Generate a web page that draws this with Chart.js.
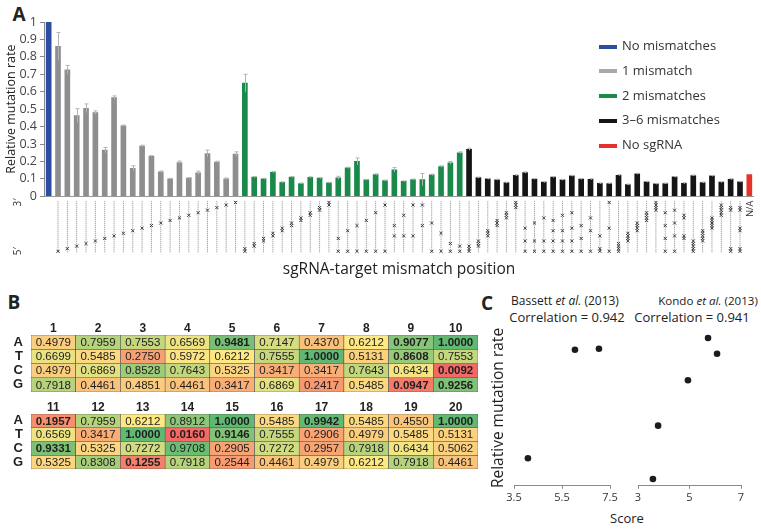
<!DOCTYPE html>
<html>
<head>
<meta charset="utf-8">
<script src="https://cdn.jsdelivr.net/npm/chart.js@4.4.1/dist/chart.umd.min.js"></script>
<style>
  html, body { margin: 0; padding: 0; background: #fff; }
  body { width: 761px; height: 529px; position: relative; overflow: hidden; font-family: "Open Sans", sans-serif; color: #222; }
  .box { position: absolute; line-height: 0; }
  .box canvas { display: block; }
  .tag { position: absolute; font-weight: bold; font-size: 19px; transform: translate(-50%, -50%); }
  .txt { position: absolute; white-space: nowrap; transform: translate(-50%, -50%); font-size: 12px; color: #222; }
  .legend { position: absolute; left: 599px; top: 36px; font-size: 13px; color: #333; }
  .legend div { height: 24.8px; line-height: 18px; white-space: nowrap; }
  .legend span { display: inline-block; width: 18px; height: 4px; margin-right: 5px; vertical-align: middle; }
</style>
</head>
<body>

<div class="tag" style="left:19px; top:14px">A</div>
<div class="tag" style="left:14px; top:302px">B</div>
<div class="tag" style="left:487px; top:303px">C</div>

<div class="box" style="left:0; top:0"><canvas id="barChart" width="761" height="285"></canvas></div>
<div class="legend" id="legend"></div>

<div class="box" style="left:0; top:313px"><canvas id="heat1" width="490" height="95"></canvas></div>
<div class="box" style="left:0; top:392px"><canvas id="heat2" width="490" height="93"></canvas></div>

<div class="txt" style="left:565px; top:300px">Bassett <i>et al.</i> (2013)</div>
<div class="txt" style="left:567px; top:317px; font-size:13px">Correlation = 0.942</div>
<div class="txt" style="left:708px; top:300px; font-size:11.6px">Kondo <i>et al.</i> (2013)</div>
<div class="txt" style="left:692px; top:317px; font-size:13px">Correlation = 0.941</div>
<div class="txt" style="left:497px; top:408px; transform:translate(-50%,-50%) rotate(-90deg); font-size:15.5px">Relative mutation rate</div>
<div class="txt" style="left:627px; top:518px; font-size:13px">Score</div>

<div class="box" style="left:500px; top:322px"><canvas id="scatter1" width="120" height="207"></canvas></div>
<div class="box" style="left:624px; top:322px"><canvas id="scatter2" width="137" height="207"></canvas></div>

<script>
// ---- Panel A data ----
// mismatch positions (1 = 5' end, 20 = 3' end) for each sgRNA, null = no sgRNA
const mismatchPositions = [
  [],
  [1], [2], [3], [4], [5], [6], [7], [8], [9], [10],
  [11], [12], [13], [14], [15], [16], [17], [18], [19], [20],
  [1, 2], [3, 4], [5, 6], [7, 8], [9, 10], [11, 12], [13, 14], [15, 16], [17, 18], [19, 20],
  [1, 6], [1, 9], [1, 11], [1, 13], [1, 16], [1, 19], [7, 11], [7, 15], [7, 19], [11, 19],
  [1, 12], [1, 8], [1, 4], [1, 3],
  [1, 2, 3], [3, 4, 5], [7, 8, 9], [11, 12, 13], [14, 15, 16], [18, 19, 20],
  [1, 5, 10], [1, 5, 12], [1, 5, 14], [1, 5, 9, 13], [1, 5, 9, 15], [1, 5, 10, 16],
  [1, 6, 11], [1, 9, 14], [1, 2, 7], [1, 10, 20],
  [1, 2, 3, 4], [5, 6, 7, 8], [9, 10, 11, 12], [13, 14, 15, 16], [17, 18, 19, 20],
  [1, 6, 11, 16], [1, 7, 12, 17], [6, 7, 14, 15],
  [1, 2, 3, 4, 5], [5, 6, 7, 8, 9], [10, 11, 12, 13, 14], [15, 16, 17, 18, 19],
  [1, 2, 17, 18], [1, 2, 9, 10, 17, 18],
  null
];
const mutationRates = [
  1.0,
  0.86, 0.726, 0.463, 0.505, 0.48, 0.265, 0.566, 0.405, 0.16, 0.288,
  0.23, 0.14, 0.10, 0.194, 0.104, 0.134, 0.245, 0.196, 0.10, 0.242,
  0.65, 0.11, 0.10, 0.138, 0.08, 0.11, 0.073, 0.109, 0.104, 0.077,
  0.106, 0.163, 0.20, 0.094, 0.125, 0.09, 0.152, 0.086, 0.096, 0.096,
  0.123, 0.171, 0.192, 0.25,
  0.27, 0.107, 0.10, 0.095, 0.078, 0.12, 0.136, 0.099, 0.081, 0.11,
  0.094, 0.117, 0.099, 0.098, 0.074, 0.073, 0.121, 0.067, 0.129, 0.083,
  0.071, 0.073, 0.111, 0.075, 0.119, 0.079, 0.117, 0.081, 0.098, 0.083,
  0.125
];
const rateErrors = [
  0,
  0.08, 0.025, 0.04, 0.025, 0.01, 0.015, 0.01, 0.004, 0.015, 0.005,
  0.004, 0.005, 0.003, 0.008, 0.003, 0.01, 0.02, 0.005, 0.005, 0.013,
  0.05, 0.003, 0.003, 0.004, 0.003, 0.003, 0.003, 0.003, 0.003, 0.003,
  0.009, 0.004, 0.02, 0.003, 0.004, 0.003, 0.013, 0.003, 0.003, 0.035,
  0.004, 0.004, 0.008, 0.005,
  0.006, 0.003, 0.003, 0.003, 0.003, 0.003, 0.004, 0.003, 0.003, 0.003,
  0.003, 0.003, 0.003, 0.003, 0.003, 0.003, 0.003, 0.003, 0.003, 0.003,
  0.003, 0.003, 0.003, 0.003, 0.003, 0.003, 0.003, 0.003, 0.003, 0.003,
  0
];
const legendLabels = ['No mismatches', '1 mismatch', '2 mismatches', '3\u20136 mismatches', 'No sgRNA'];
const legendColors = ['#2b4ea3', '#a9a9a9', '#1a8a4b', '#151515', '#e5332b'];
const barColors = ['#2b4ea3', '#8e8e8e', '#1a8a4b', '#151515', '#e5332b'];

// ---- Panel B data (positions 1-20) ----
const bases = ['A', 'T', 'C', 'G'];
const rowA = [0.4979, 0.7959, 0.7553, 0.6569, 0.9481, 0.7147, 0.4370, 0.6212, 0.9077, 1.0000,
              0.1957, 0.7959, 0.6212, 0.8912, 1.0000, 0.5485, 0.9942, 0.5485, 0.4550, 1.0000];
const rowT = [0.6699, 0.5485, 0.2750, 0.5972, 0.6212, 0.7555, 1.0000, 0.5131, 0.8608, 0.7553,
              0.6569, 0.3417, 1.0000, 0.0160, 0.9146, 0.7555, 0.2906, 0.4979, 0.5485, 0.5131];
const rowC = [0.4979, 0.6869, 0.8528, 0.7643, 0.5325, 0.3417, 0.3417, 0.7643, 0.6434, 0.0092,
              0.9331, 0.5325, 0.7272, 0.9708, 0.2905, 0.7272, 0.2957, 0.7918, 0.6434, 0.5062];
const rowG = [0.7918, 0.4461, 0.4851, 0.4461, 0.3417, 0.6869, 0.2417, 0.5485, 0.0947, 0.9256,
              0.5325, 0.8308, 0.1255, 0.7918, 0.2544, 0.4461, 0.4979, 0.6212, 0.7918, 0.4461];
const boldCells = ['A5', 'A9', 'A10', 'A11', 'A15', 'A17', 'A20', 'T7', 'T9', 'T13', 'T14', 'T15',
                   'C10', 'C11', 'G9', 'G10', 'G13'];

// ---- Panel C data ----
const bassettScore = [4.08, 6.04, 7.04];
const bassettRate = [0.177, 0.873, 0.880];
const kondoScore = [5.72, 6.07, 4.94, 3.78, 3.58];
const kondoRate = [0.949, 0.848, 0.677, 0.386, 0.044];

const FONT = '"Open Sans", sans-serif';
const ARIAL = '"Liberation Sans", Arial, sans-serif';
Chart.defaults.font.family = FONT;
Chart.defaults.color = '#333';
Chart.defaults.animation = false;
Chart.defaults.plugins.legend.display = false;
Chart.defaults.plugins.tooltip.enabled = false;

// legend
document.getElementById('legend').innerHTML = legendLabels.map(function (t, i) {
  return '<div><span style="background:' + legendColors[i] + '"></span>' + t + '</div>';
}).join('');

// ---- Panel A ----
const categories = mismatchPositions.map(function (m) {
  if (m === null) return 'N/A';
  return m.length ? m.join('-') : 'none';
});
function groupIndex(m) {
  if (m === null) return 4;
  if (m.length === 0) return 0;
  if (m.length === 1) return 1;
  if (m.length === 2) return 2;
  return 3;
}

const columnLines = [];
const mismatchMarks = [];
mismatchPositions.forEach(function (m, i) {
  if (!m || !m.length) return;
  columnLines.push({x: categories[i], y: 0.6}, {x: categories[i], y: 20.6}, {x: categories[i], y: null});
  m.forEach(function (p) { mismatchMarks.push({x: categories[i], y: p}); });
});

const errorBars = {
  id: 'errorBars',
  afterDatasetsDraw(chart) {
    const meta = chart.getDatasetMeta(0);
    const ys = chart.scales.y;
    const ctx = chart.ctx;
    ctx.save();
    ctx.strokeStyle = '#b4b4b4';
    ctx.lineWidth = 1;
    meta.data.forEach(function (bar, i) {
      const e = rateErrors[i];
      if (!e) return;
      const top = ys.getPixelForValue(mutationRates[i] + e);
      const bot = ys.getPixelForValue(mutationRates[i] - e);
      const x = Math.round(bar.x) + 0.5;
      ctx.beginPath();
      ctx.moveTo(x, top); ctx.lineTo(x, bot);
      ctx.moveTo(x - 2, top); ctx.lineTo(x + 2, top);
      ctx.stroke();
    });
    ctx.restore();
  }
};

// rotated small labels: 3'/5' ends and N/A
function rotatedText(ctx, text, x, y, align) {
  ctx.save();
  ctx.translate(x, y);
  ctx.rotate(-Math.PI / 2);
  ctx.textAlign = align;
  ctx.textBaseline = 'middle';
  ctx.fillText(text, 0, 0);
  ctx.restore();
}
const endLabels = {
  id: 'endLabels',
  afterDatasetsDraw(chart) {
    const xs = chart.scales.x, yp = chart.scales.yPos;
    const ctx = chart.ctx;
    ctx.save();
    ctx.fillStyle = '#333';
    ctx.font = '10px ' + FONT;
    rotatedText(ctx, '3\u2032', chart.chartArea.left - 26, yp.getPixelForValue(20), 'center');
    rotatedText(ctx, '5\u2032', chart.chartArea.left - 26, yp.getPixelForValue(1), 'center');
    ctx.font = '9px ' + FONT;
    rotatedText(ctx, 'N/A', xs.getPixelForValue(categories.length - 1) + 1, yp.getPixelForValue(20.6), 'right');
    ctx.restore();
  }
};

new Chart(document.getElementById('barChart'), {
  type: 'bar',
  data: {
    labels: categories,
    datasets: [{
      data: mutationRates,
      backgroundColor: mismatchPositions.map(function (m) { return barColors[groupIndex(m)]; }),
      barThickness: 5,
      yAxisID: 'y',
      order: 3
    }, {
      type: 'line',
      data: columnLines,
      yAxisID: 'yPos',
      borderColor: '#8a8a8a',
      borderWidth: 1,
      borderDash: [1, 1],
      pointRadius: 0,
      spanGaps: false,
      order: 2
    }, {
      type: 'scatter',
      data: mismatchMarks,
      yAxisID: 'yPos',
      pointStyle: 'crossRot',
      pointRadius: 2.2,
      borderColor: '#3c3c3c',
      borderWidth: 1,
      order: 1
    }]
  },
  options: {
    responsive: false,
    layout: {padding: {top: 22, right: 7, bottom: 2, left: 0}},
    scales: {
      x: {
        type: 'category',
        offset: true,
        grid: {display: false, drawTicks: false},
        border: {display: false},
        ticks: {display: false},
        title: {display: true, text: 'sgRNA-target mismatch position', font: {size: 15.5}, color: '#222', padding: {top: 4, bottom: 4}}
      },
      y: {
        stack: 'a', stackWeight: 174, weight: 2,
        min: 0, max: 1,
        ticks: {stepSize: 0.1, autoSkip: false, font: {size: 12.5}, color: '#444', padding: 3,
                callback: function (v) { return String(Math.round(v * 10) / 10); }},
        grid: {
          color: function (c) { return c.tick && c.tick.value === 0 ? '#9a9a9a' : 'rgba(0,0,0,0)'; },
          tickColor: '#888', tickLength: 4
        },
        border: {color: '#888'},
        title: {display: true, text: 'Relative mutation rate', font: {size: 12.5}, color: '#222'},
        afterFit: function (s) { s.width = 44; }
      },
      yPos: {
        stack: 'a', stackWeight: 60, weight: 1,
        min: -1, max: 22.4,
        ticks: {display: false},
        grid: {display: false, drawTicks: false},
        border: {display: false},
        afterFit: function (s) { s.width = 44; }
      }
    }
  },
  plugins: [errorBars, endLabels]
});

// ---- Panel B ----
const rowValues = {A: rowA, T: rowT, C: rowC, G: rowG};
const allValues = rowA.concat(rowT, rowC, rowG).slice().sort(function (a, b) { return a - b; });
const vMin = allValues[0];
const vMax = allValues[allValues.length - 1];
const vMid = (allValues[allValues.length / 2 - 1] + allValues[allValues.length / 2]) / 2;
const RED = [242, 104, 102], YELLOW = [253, 232, 131], GREEN = [96, 184, 115];
function mix(a, b, t) {
  t = Math.max(0, Math.min(1, t));
  return 'rgb(' + a.map(function (c, k) { return Math.round(c + (b[k] - c) * t); }).join(',') + ')';
}
function heatColor(v) {
  if (v <= vMid) return mix(RED, YELLOW, (v - vMin) / (vMid - vMin));
  return mix(YELLOW, GREEN, (v - vMid) / (vMax - vMid));
}

const cellText = {
  id: 'cellText',
  afterDatasetsDraw(chart) {
    const ctx = chart.ctx;
    ctx.save();
    ctx.textAlign = 'center';
    ctx.textBaseline = 'middle';
    ctx.fillStyle = '#1e1e1e';
    chart.data.datasets.forEach(function (ds, di) {
      chart.getDatasetMeta(di).data.forEach(function (el, j) {
        const pos = ds.positions[j];
        const bold = boldCells.indexOf(ds.label + pos) >= 0;
        ctx.font = (bold ? 'bold ' : '') + '11.5px ' + ARIAL;
        ctx.fillText(ds.cellValues[j].toFixed(4), el.x, (el.y + el.base) / 2 + 0.5);
      });
    });
    ctx.restore();
  }
};

function heatChart(id, positions) {
  return new Chart(document.getElementById(id), {
    type: 'bar',
    data: {
      labels: positions.map(String),
      datasets: bases.map(function (b) {
        const vals = positions.map(function (p) { return rowValues[b][p - 1]; });
        return {
          label: b,
          positions: positions,
          cellValues: vals,
          data: positions.map(function () { return 1; }),
          backgroundColor: vals.map(heatColor),
          borderColor: '#4d4d4d',
          borderWidth: 0.6,
          borderSkipped: false,
          categoryPercentage: 1,
          barPercentage: 1
        };
      })
    },
    options: {
      responsive: false,
      layout: {padding: {top: 2, right: 12, bottom: 16, left: 0}},
      scales: {
        x: {
          position: 'top', stacked: true,
          grid: {display: false, drawTicks: false}, border: {display: false},
          ticks: {font: {family: ARIAL, size: 12, weight: 'bold'}, color: '#222', padding: -1},
          afterFit: function (s) { s.height = 20; }
        },
        y: {
          stacked: true, reverse: true, min: 0, max: 4,
          afterBuildTicks: function (s) { s.ticks = [0.5, 1.5, 2.5, 3.5].map(function (v) { return {value: v}; }); },
          ticks: {autoSkip: false, font: {family: ARIAL, size: 13, weight: 'bold'}, color: '#222', padding: 8,
                  callback: function (v) { return bases[Math.floor(v)]; }},
          grid: {display: false, drawTicks: false}, border: {display: false},
          afterFit: function (s) { s.width = 31; }
        }
      }
    },
    plugins: [cellText]
  });
}
heatChart('heat1', [1, 2, 3, 4, 5, 6, 7, 8, 9, 10]);
heatChart('heat2', [11, 12, 13, 14, 15, 16, 17, 18, 19, 20]);

// ---- Panel C ----
function scatterChart(id, xs, ys, xmin, xmax, padLeft, padRight) {
  return new Chart(document.getElementById(id), {
    type: 'scatter',
    data: {
      datasets: [{
        data: xs.map(function (x, i) { return {x: x, y: ys[i]}; }),
        pointRadius: 3.3,
        backgroundColor: '#1c1c1c',
        borderWidth: 0,
        clip: false
      }]
    },
    options: {
      responsive: false,
      layout: {padding: {top: 8, right: padRight, bottom: 23, left: padLeft}},
      scales: {
        x: {
          type: 'linear', min: xmin, max: xmax,
          ticks: {stepSize: 2, font: {size: 11}, color: '#333', padding: 2},
          grid: {drawOnChartArea: false, tickLength: 3, color: '#8a8a8a'},
          border: {color: '#8a8a8a'}
        },
        y: {display: false, min: 0, max: 1}
      }
    }
  });
}
scatterChart('scatter1', bassettScore, bassettRate, 3.5, 7.5, 14, 10);
scatterChart('scatter2', kondoScore, kondoRate, 3, 7, 14, 20);
</script>
</body>
</html>
